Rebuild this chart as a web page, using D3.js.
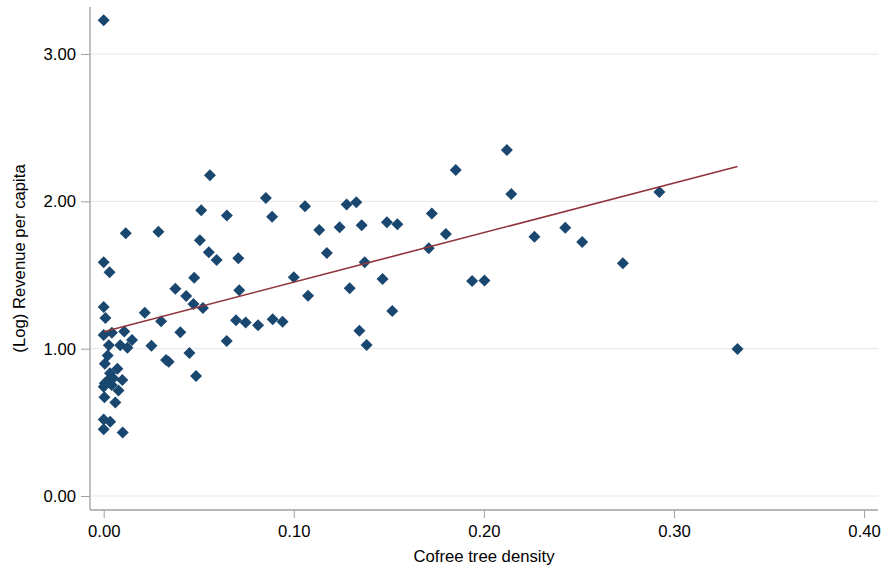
<!DOCTYPE html>
<html lang="en">
<head>
    <meta charset="UTF-8">
    <title>Cofree tree density</title>
    <style>
        body { margin: 0; background: #fff; }
        svg { display: block; font-family: "Liberation Sans", Arial, Helvetica, sans-serif; }
    </style>
</head>
<body>
    <script src="https://d3js.org/d3.v7.min.js"></script>
    <script>
        // scatter values
        const density = [0.000, 0.0559, 0.0853, 0.1059, 0.0513, 0.0648, 0.0886, 0.0116, 0.0288, 0.0506,
            0.0553, 0.0594, 0.0708, 0.000, 0.0031, 0.0476, 0.1000, 0.0377, 0.0713, 0.0434,
            0.1075, 0.0472, 0.0522, 0.000, 0.0009, 0.0216, 0.0302, 0.0696, 0.0747, 0.0812,
            0.0889, 0.0941, 0.0403, 0.000, 0.0043, 0.0108, 0.0149, 0.0647, 0.0027, 0.0087,
            0.0125, 0.0251, 0.0021, 0.0006, 0.0072, 0.0328, 0.0342, 0.0451, 0.0486, 0.0033,
            0.0024, 0.0050, 0.0006, 0.000, 0.0042, 0.0098, 0.0078, 0.0004, 0.0061, 0.000,
            0.0034, 0.000, 0.0100, 0.2121, 0.1852, 0.2144, 0.1278, 0.1329, 0.1726, 0.1134,
            0.1241, 0.1357, 0.1490, 0.1545, 0.1800, 0.1710, 0.1174, 0.1373, 0.1467, 0.1938,
            0.2003, 0.1294, 0.1518, 0.1345, 0.1383, 0.2923, 0.2266, 0.2428, 0.2517, 0.2731,
            0.3334];
        const revenue = [3.229, 2.177, 2.023, 1.967, 1.940, 1.903, 1.896, 1.783, 1.794, 1.736,
            1.654, 1.602, 1.614, 1.587, 1.519, 1.482, 1.485, 1.407, 1.396, 1.358,
            1.359, 1.303, 1.276, 1.283, 1.208, 1.244, 1.186, 1.193, 1.177, 1.159,
            1.200, 1.183, 1.111, 1.093, 1.108, 1.117, 1.059, 1.052, 1.023, 1.023,
            1.007, 1.020, 0.954, 0.897, 0.864, 0.923, 0.912, 0.971, 0.815, 0.833,
            0.788, 0.799, 0.765, 0.742, 0.754, 0.788, 0.716, 0.670, 0.635, 0.519,
            0.504, 0.453, 0.431, 2.348, 2.213, 2.049, 1.978, 1.994, 1.917, 1.806,
            1.824, 1.838, 1.858, 1.845, 1.779, 1.682, 1.650, 1.587, 1.473, 1.460,
            1.462, 1.410, 1.256, 1.122, 1.025, 2.064, 1.760, 1.821, 1.724, 1.580,
            0.998];
        // linear fit shown in the reference
        const fitIntercept = 1.115;
        const fitSlope = 3.364;
        const xTicks = [0, 0.1, 0.2, 0.3, 0.4];
        const yTicks = [0, 1, 2, 3];

        const w = 882, h = 568;
        const plotLeft = 90, plotRight = 878, plotTop = 7, plotBottom = 510;
        const fontSize = "16.7px";

        const x = d3.scaleLinear().domain([0, 0.4]).range([103.7, 864.1]);
        const y = d3.scaleLinear().domain([0, 3]).range([496, 54]);

        const svg = d3.select("body").append("svg")
            .attr("width", w)
            .attr("height", h);

        // gridlines
        svg.append("g").selectAll("line")
            .data(yTicks)
            .enter().append("line")
            .attr("x1", plotLeft).attr("x2", plotRight)
            .attr("y1", d => y(d)).attr("y2", d => y(d))
            .attr("stroke", "#e6e6e6")
            .attr("stroke-width", 1);

        const yAxis = svg.append("g")
            .attr("transform", "translate(" + plotLeft + ",0)")
            .call(d3.axisLeft(y).tickValues(yTicks).tickFormat(d3.format(".2f")).tickSize(9).tickPadding(5));
        yAxis.select(".domain").remove();

        const xAxis = svg.append("g")
            .attr("transform", "translate(0," + plotBottom + ")")
            .call(d3.axisBottom(x).tickValues(xTicks).tickFormat(d3.format(".2f")).tickSize(8));
        xAxis.select(".domain").remove();
        xAxis.selectAll("text").attr("y", 27).attr("dy", 0);

        [yAxis, xAxis].forEach(a => {
            a.selectAll("line").attr("stroke", "#a0a0a0");
            a.selectAll("text").attr("fill", "#000").style("font-size", fontSize);
        });

        // axis lines
        svg.append("line").attr("x1", plotLeft).attr("x2", plotLeft).attr("y1", plotTop).attr("y2", plotBottom)
            .attr("stroke", "#a0a0a0").attr("stroke-width", 1.3);
        svg.append("line").attr("x1", plotLeft).attr("x2", plotRight).attr("y1", plotBottom).attr("y2", plotBottom)
            .attr("stroke", "#a0a0a0").attr("stroke-width", 1.3);

        // points
        const pts = density.map((d, i) => [d, revenue[i]]);
        svg.append("g").selectAll("path")
            .data(pts)
            .enter().append("path")
            .attr("transform", d => "translate(" + x(d[0]) + "," + y(d[1]) + ")")
            .attr("d", "M0,-6L6,0L0,6L-6,0Z")
            .attr("fill", "#1a476f");

        // fitted line over the data range
        const xr = d3.extent(density);
        svg.append("line")
            .attr("x1", x(xr[0])).attr("y1", y(fitIntercept + fitSlope * xr[0]))
            .attr("x2", x(xr[1])).attr("y2", y(fitIntercept + fitSlope * xr[1]))
            .attr("stroke", "#90353b")
            .attr("stroke-width", 1.6);

        // axis titles
        svg.append("text")
            .attr("x", (plotLeft + plotRight) / 2).attr("y", 562)
            .attr("text-anchor", "middle")
            .style("font-size", fontSize).attr("fill", "#000")
            .text("Cofree tree density");
        svg.append("text")
            .attr("transform", "translate(25," + ((plotTop + plotBottom) / 2) + ") rotate(-90)")
            .attr("text-anchor", "middle")
            .style("font-size", fontSize).attr("fill", "#000")
            .text("(Log) Revenue per capita");
    </script>
</body>
</html>
